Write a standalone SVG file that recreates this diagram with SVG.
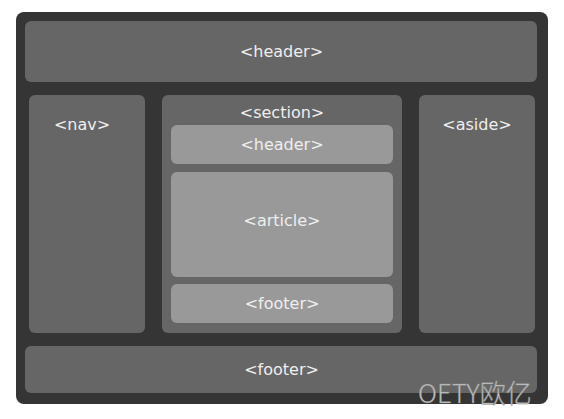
<svg xmlns="http://www.w3.org/2000/svg" width="564" height="419" viewBox="0 0 564 419">
<style>
.mid{fill:#666666}
.light{fill:#999999}
.t{font-family:"DejaVu Sans",sans-serif;font-size:16px;fill:#eeeeee;text-anchor:middle}
</style>
<rect width="564" height="419" fill="#ffffff"/>
<g id="page"><rect x="16" y="12" width="532" height="392" rx="8" fill="#353535"/></g>
<g id="header"><rect class="mid" x="25" y="21" width="512" height="61" rx="6"/><text class="t" x="281.5" y="57">&lt;header&gt;</text></g>
<g id="nav"><rect class="mid" x="29" y="95" width="116" height="238" rx="6"/><text class="t" x="82" y="130">&lt;nav&gt;</text></g>
<g id="section"><rect class="mid" x="162" y="95" width="240" height="238" rx="6"/><text class="t" x="282" y="118">&lt;section&gt;</text></g>
<g id="section-header"><rect class="light" x="171" y="125" width="222" height="39" rx="6"/><text class="t" x="282" y="150">&lt;header&gt;</text></g>
<g id="article"><rect class="light" x="171" y="172" width="222" height="105" rx="6"/><text class="t" x="282" y="226">&lt;article&gt;</text></g>
<g id="section-footer"><rect class="light" x="171" y="284" width="222" height="39" rx="6"/><text class="t" x="282" y="309">&lt;footer&gt;</text></g>
<g id="aside"><rect class="mid" x="419" y="95" width="116" height="238" rx="6"/><text class="t" x="477" y="130">&lt;aside&gt;</text></g>
<g id="footer"><rect class="mid" x="25" y="346" width="512" height="47" rx="6"/><text class="t" x="281.5" y="375">&lt;footer&gt;</text></g>
<g id="connectors"></g>
<text x="418" y="403" font-family="'Noto Sans CJK SC',sans-serif" font-size="26" font-weight="300" fill="#cccccc" stroke="#888888" stroke-width="0.5">OETY欧亿</text>
</svg>
